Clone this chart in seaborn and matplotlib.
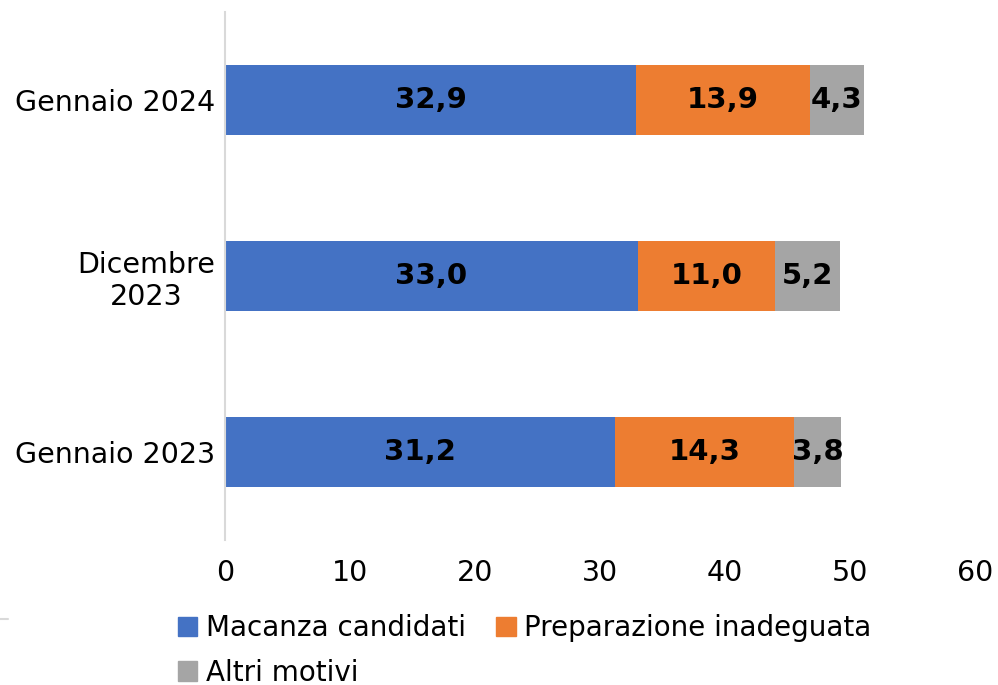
import matplotlib
matplotlib.use("Agg")
import matplotlib.pyplot as plt
import matplotlib.patches as mpatches
import matplotlib.lines as mlines
import seaborn as sns
import numpy as np

# dati
periodi = ["Gennaio 2024", "Dicembre\n2023", "Gennaio 2023"]
macanza = [32.9, 33.0, 31.2]
preparazione = [13.9, 11.0, 14.3]
altri = [4.3, 5.2, 3.8]
serie = ["Macanza candidati", "Preparazione inadeguata", "Altri motivi"]
colori = ["#4472C4", "#ED7D31", "#A5A5A5"]

sns.set_theme(style="white")
plt.rcParams["font.family"] = "sans-serif"
plt.rcParams["font.sans-serif"] = ["DejaVu Sans"]
plt.rcParams["text.color"] = "black"

fig = plt.figure(figsize=(9.98, 6.85), dpi=100)
ax = fig.add_axes([0.2255, 0.2117, 0.7515, 0.7708])

m = np.array(macanza)
p = np.array(preparazione)
a = np.array(altri)
cumuli = [m + p + a, m + p, m]
# barre sovrapposte dal totale al primo segmento
for vals, col in zip(cumuli, colori[::-1]):
    sns.barplot(x=vals, y=periodi, color=col, width=0.4, orient="h",
                saturation=1, linewidth=0, ax=ax)

for i in range(len(periodi)):
    starts = [0, m[i], m[i] + p[i]]
    for s, v in zip(starts, [m[i], p[i], a[i]]):
        ax.text(s + v / 2, i, f"{v:.1f}".replace(".", ","), ha="center",
                va="center", fontsize=21, fontweight="bold", color="black")

ax.set_xlim(0, 60)
ax.set_ylim(2.5, -0.5)
ax.set_xticks(range(0, 61, 10))
ax.set_xlabel("")
ax.set_ylabel("")
ax.tick_params(axis="both", length=0, labelsize=20.5, colors="black")
ax.tick_params(axis="x", pad=14)
ax.tick_params(axis="y", pad=7)
for lab in ax.get_yticklabels():
    lab.set_multialignment("center")

sns.despine(ax=ax, left=False, bottom=True)
ax.spines["left"].set_color("#D9D9D9")
ax.spines["left"].set_linewidth(1.5)

ordine = [0, 2, 1]
handles = [mpatches.Patch(color=colori[k], label=serie[k]) for k in ordine]
fig.legend(handles=handles, ncol=2, loc="upper left",
           bbox_to_anchor=(178 / 998, 1 - 614 / 685), frameon=False,
           fontsize=20, handlelength=0.7, handleheight=0.7,
           handletextpad=0.3, columnspacing=1.1, borderpad=0,
           borderaxespad=0, labelspacing=0.6, labelcolor="black")

fig.add_artist(mlines.Line2D([0, 8 / 998], [1 - 619 / 685] * 2,
                             color="#D9D9D9", lw=1.5))

fig.savefig("out.png", dpi=100)
